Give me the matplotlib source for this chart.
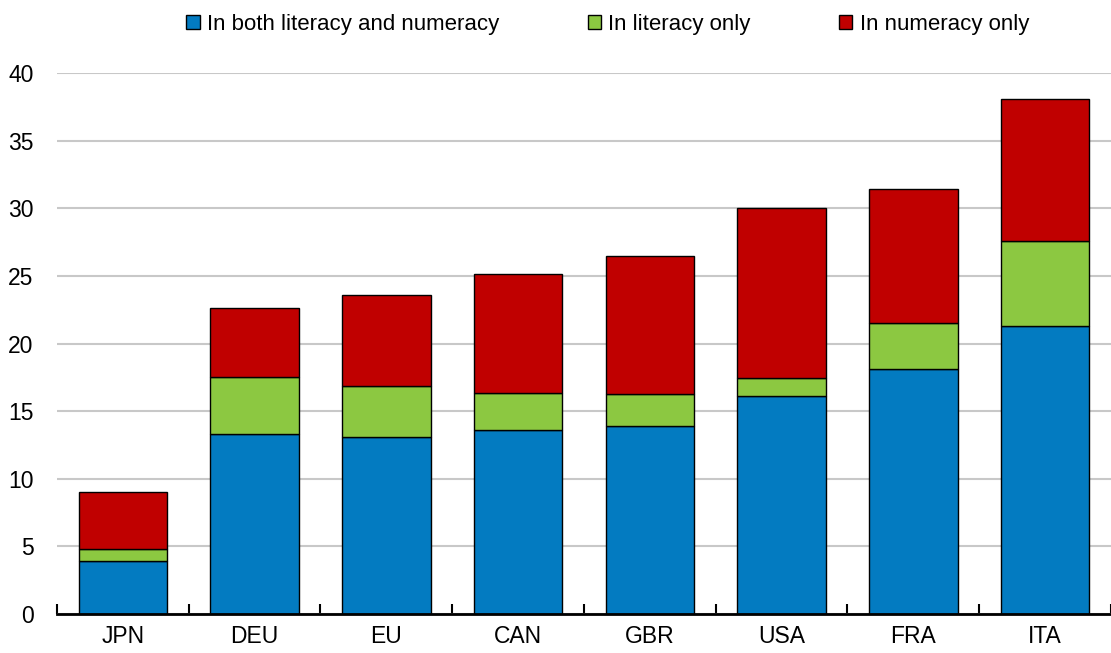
import numpy as np
import matplotlib.pyplot as plt
from matplotlib.patches import Patch

plt.rcParams['font.family'] = ['Liberation Sans', 'DejaVu Sans']

countries = ["JPN", "DEU", "EU", "CAN", "GBR", "USA", "FRA", "ITA"]
both = [3.9, 13.3, 13.1, 13.6, 13.9, 16.1, 18.1, 21.3]
literacy_only = [0.9, 4.2, 3.75, 2.75, 2.4, 1.35, 3.45, 6.3]
numeracy_only = [4.25, 5.1, 6.7, 8.8, 10.2, 12.6, 9.9, 10.45]

labels = ["In both literacy and numeracy", "In literacy only", "In numeracy only"]
colors = ["#037BC1", "#8CC841", "#C00000"]

fig = plt.figure(figsize=(11.11, 6.53), dpi=100)
ax = fig.add_axes([0.0513, 0.0597, 0.9487, 0.8285])

x = np.arange(len(countries))
width = 0.67
bottom = np.zeros(len(countries))
for vals, col in zip([both, literacy_only, numeracy_only], colors):
    vals = np.array(vals)
    ax.bar(x, vals, width, bottom=bottom, color=col, edgecolor="black",
           linewidth=1.0, zorder=3)
    bottom += vals

ax.set_xlim(-0.5, len(countries) - 0.5)
ax.set_ylim(0, 40)
ax.set_yticks(np.arange(0, 41, 5))
ax.set_xticks(x)
ax.set_xticklabels(countries)
ax.set_xticks(np.arange(-0.5, len(countries), 1.0), minor=True)

ax.grid(axis="y", color="#c8c8c8", linewidth=1.5, zorder=0)
for side in ["left", "right", "top"]:
    ax.spines[side].set_visible(False)
ax.spines["bottom"].set_linewidth(2)
ax.spines["bottom"].set_zorder(4)

ax.tick_params(axis="x", which="major", length=0, pad=8, labelsize=16.5)
ax.tick_params(axis="x", which="minor", direction="in", length=7, width=1.5)
ax.tick_params(axis="y", length=0, pad=17, labelsize=16.5)

handles = [Patch(facecolor=c, edgecolor="black", linewidth=1.0) for c in colors]
fig.legend(handles, labels, loc="center", bbox_to_anchor=(0.547, 0.963),
           ncol=3, frameon=False, fontsize=16, handlelength=0.59,
           handleheight=0.63, handletextpad=0.32, columnspacing=4.0,
           borderpad=0, borderaxespad=0)

fig.savefig("out.png", dpi=100)
